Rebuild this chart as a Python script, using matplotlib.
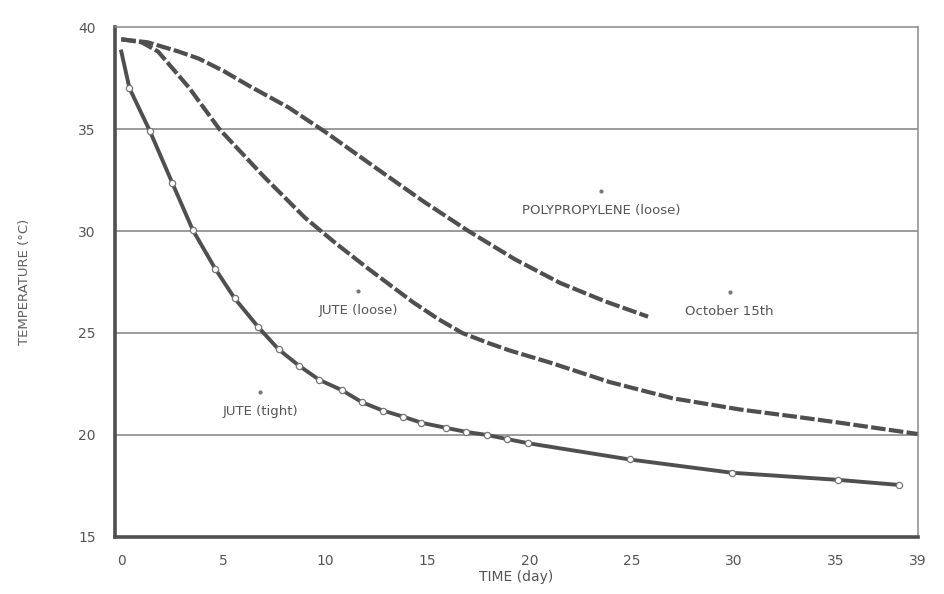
import matplotlib.pyplot as plt
import numpy as np

#Data
jute_tight_day = [0, 0.4, 1.4, 2.5, 3.5, 4.6, 5.55, 6.7, 7.7, 8.7, 9.7, 10.8, 11.8, 12.8,
                  13.8, 14.7, 15.9, 16.9, 17.9, 18.9, 19.9, 24.9, 29.9, 35.1, 38.1]
jute_tight_temp = [38.8, 37.0, 34.9, 32.35, 30.05, 28.15, 26.7, 25.3, 24.2, 23.4, 22.7, 22.2, 21.6, 21.2,
                   20.9, 20.6, 20.35, 20.15, 20.0, 19.8, 19.6, 18.8, 18.15, 17.8, 17.55]

jute_loose_day = [0, 1.0, 1.8, 3.3, 4.8, 7.0, 9.0, 10.5, 12.1, 14.3, 15.5, 16.7, 18.0, 19.0, 21.0, 23.9,
                  27.0, 30.3, 33.0, 35.2, 39.0]
jute_loose_temp = [39.4, 39.25, 38.8, 37.05, 35.0, 32.65, 30.65, 29.4, 28.15, 26.5, 25.7, 25.0, 24.5, 24.15,
                   23.55, 22.6, 21.8, 21.25, 20.9, 20.6, 20.05]

poly_day = [0, 1.3, 2.8, 3.8, 5.0, 6.2, 8.2, 10.0, 12.6, 14.8, 17.0, 19.3, 21.5, 23.7, 25.8]
poly_temp = [39.4, 39.25, 38.8, 38.45, 37.85, 37.15, 36.05, 34.85, 33.0, 31.45, 30.0, 28.6, 27.45, 26.55, 25.8]

labels = ["POLYPROPYLENE (loose)", "October 15th", "JUTE (loose)", "JUTE (tight)"]
label_day = [23.5, 29.8, 11.6, 6.8]
label_temp = [31.0, 26.05, 26.1, 21.15]

x_ticks = [0, 5, 10, 15, 20, 25, 30, 35, 39]
y_ticks = [15, 20, 25, 30, 35, 40]

ink = "#4f4f4f"

#Setup matplotlib
fig = plt.figure(figsize=(9.44, 5.94), dpi=100)
ax = fig.add_axes([0.122, 0.096, 0.850, 0.8585])

ax.set_xlim(-0.3, 39)
ax.set_ylim(15, 40)

for t in y_ticks[1:-1]:
    ax.axhline(t, color="#808080", linewidth=1.1, zorder=1)

#Dashed curves, long dark dashes with thin pale gaps as in the print
ax.plot(jute_loose_day, jute_loose_temp, color=ink, linewidth=3, linestyle=(0, (3.5, 0.8)), zorder=3)
ax.plot(poly_day, poly_temp, color=ink, linewidth=3, linestyle=(0, (3.5, 0.8)), zorder=3)
ax.plot(jute_tight_day, jute_tight_temp, color=ink, linewidth=2.8, marker="o", markersize=4.5,
        markerfacecolor="white", markeredgecolor="#777777", markeredgewidth=0.9,
        markevery=slice(1, None), zorder=4)

for i in range(len(labels)):
    ax.text(label_day[i], label_temp[i], labels[i], fontsize=9.5, color="#555555",
            ha="center", va="center")
    ax.plot(label_day[i], label_temp[i] + 0.95, "o", color="#777777", markersize=2)

#Frame: heavy left/bottom, light top/right
ax.spines["left"].set_linewidth(2.6)
ax.spines["bottom"].set_linewidth(2.6)
ax.spines["left"].set_color(ink)
ax.spines["bottom"].set_color(ink)
ax.spines["top"].set_linewidth(1.1)
ax.spines["right"].set_linewidth(1.1)
ax.spines["top"].set_color("#8a8a8a")
ax.spines["right"].set_color("#8a8a8a")

ax.set_xticks(x_ticks)
ax.set_yticks(y_ticks)
ax.tick_params(length=0, labelsize=10, labelcolor="#555555")
ax.tick_params(axis="x", pad=12)
ax.tick_params(axis="y", pad=14)

ax.set_xlabel("TIME (day)", fontsize=10, color="#555555", labelpad=2)
ax.set_ylabel("TEMPERATURE (°C)", fontsize=9.5, color="#606060", labelpad=34)

fig.savefig("out.png", dpi=100)
